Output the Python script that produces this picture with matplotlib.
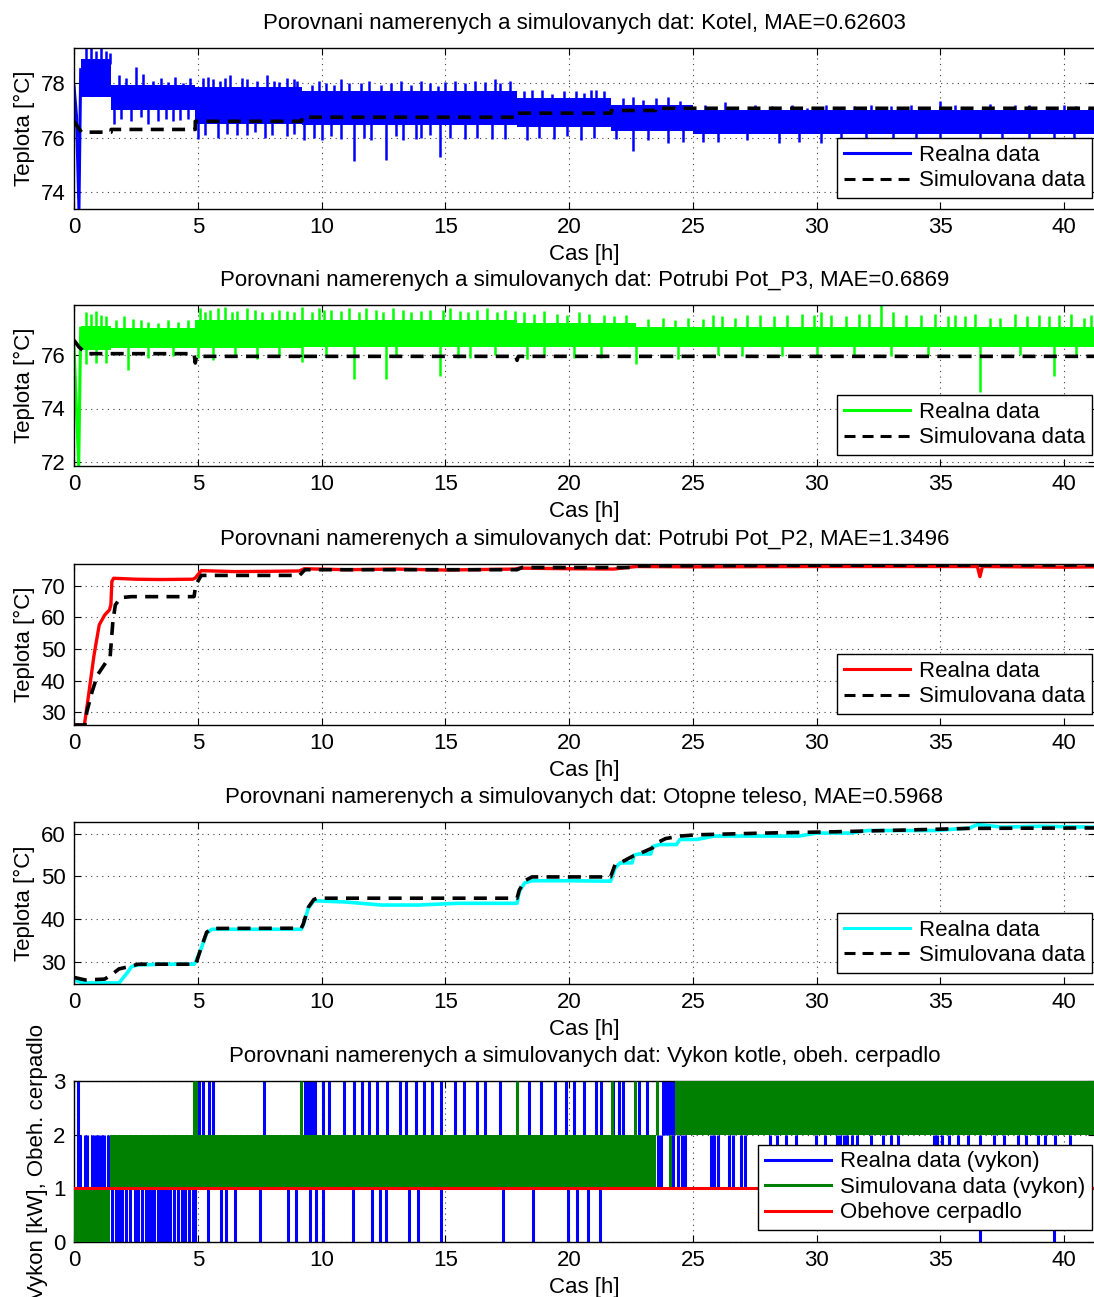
import matplotlib
matplotlib.use('Agg')
import matplotlib.pyplot as plt
from matplotlib.lines import Line2D
import numpy as np

plt.rcParams['font.family'] = ['Liberation Sans', 'DejaVu Sans']
plt.rcParams['font.size'] = 16
FS = 16

T_END = 41.25
xticks = [0, 5, 10, 15, 20, 25, 30, 35, 40]

# ---------- Panel 1: Kotel ----------
k_title = "Porovnani namerenych a simulovanych dat: Kotel, MAE=0.62603"
k_start_t = [0, 0.1, 0.2, 0.27]
k_start_v = [77.9, 76.8, 73.37, 78.5]
k_seg_t = [0.27, 1.5, 4.9, 9.2, 17.9, 21.7, 25.0, 41.25]
k_lo = [77.5, 77.0, 76.5, 76.45, 76.4, 76.25, 76.15]
k_hi = [78.9, 77.95, 77.85, 77.7, 77.45, 77.2, 77.0]
k_up_t = [0.5, 0.7, 0.9, 1.1, 1.3, 1.45, 1.8, 2.1, 2.5, 2.8, 3.2, 3.5, 3.8, 4.1, 4.4, 4.7,
          5.2, 5.4, 5.6, 5.9, 6.1, 6.3, 6.8, 7.0, 7.4, 7.8, 8.1, 8.3, 8.6, 8.9, 9.0,
          9.6, 9.9, 10.2, 10.5, 10.8, 11.1, 11.6, 11.9, 12.4, 12.8, 13.2, 13.6, 14.0, 14.4, 14.7,
          15.0, 15.4, 15.8, 16.2, 16.6, 17.0, 17.2, 17.6,
          18.2, 18.5, 18.9, 19.3, 19.8, 20.3, 20.6, 20.9, 21.1, 21.4,
          22.2, 22.6, 23.0, 23.5, 24.0, 24.5,
          25.5, 26.3, 26.8, 27.5, 28.2, 29.0, 29.6, 30.4, 31.0, 31.5, 32.2, 33.0, 33.8, 34.5,
          35.0, 35.6, 36.2, 37.0, 37.6, 38.0, 38.6, 39.3, 40.0, 40.5, 41.0]
k_up_v = [79.3, 79.3, 79.2, 79.3, 79.2, 79.1, 78.3, 78.2, 78.6, 78.35, 78.1, 78.2, 78.05, 78.25, 78.0, 78.2,
          78.2, 78.25, 78.15, 78.1, 78.2, 78.3, 78.2, 78.15, 78.1, 78.3, 78.1, 78.05, 78.2, 78.15, 78.1,
          77.95, 78.1, 78.0, 77.95, 78.15, 78.0, 78.0, 78.1, 77.95, 78.0, 78.1, 77.95, 78.1, 78.0, 77.9,
          78.05, 78.1, 78.0, 78.1, 78.05, 78.15, 78.0, 78.1,
          77.7, 77.75, 77.75, 77.6, 77.7, 77.7, 77.65, 77.75, 77.75, 77.7,
          77.45, 77.5, 77.4, 77.45, 77.5, 77.35,
          77.2, 77.3, 77.1, 77.2, 77.15, 77.2, 77.1, 77.2, 77.1, 77.15, 77.2, 77.15, 77.2, 77.1,
          77.35, 77.2, 77.1, 77.25, 77.1, 77.2, 77.2, 77.1, 77.2, 77.15, 77.1]
k_dn_t = [1.6, 1.9, 2.3, 2.7, 3.0, 3.4, 3.7, 4.0, 4.3, 4.6,
          5.0, 5.3, 5.8, 6.2, 6.6, 7.0, 7.3, 7.7, 8.0, 8.6, 8.9,
          9.3, 9.7, 10.0, 10.4, 10.8, 11.3, 11.7, 12.0, 12.6, 13.0, 13.3, 13.8, 14.0, 14.4, 14.8,
          15.2, 15.8, 16.3, 16.9, 17.4,
          18.3, 18.8, 19.4, 19.9, 20.5, 21.0, 21.9, 22.6, 23.2, 24.0, 24.6,
          25.4, 26.0, 27.2, 28.5, 29.3, 30.2, 31.0, 32.0, 33.1, 34.0, 35.0, 36.6, 37.5, 38.6, 39.6, 40.4]
k_dn_v = [76.5, 76.7, 76.6, 76.75, 76.5, 76.6, 76.7, 76.6, 76.65, 76.7,
          75.95, 76.1, 76.0, 76.15, 76.1, 76.1, 76.2, 76.0, 76.1, 76.05, 76.15,
          75.9, 76.0, 75.9, 76.05, 75.95, 75.12, 76.0, 75.9, 75.18, 76.05, 75.9, 75.95, 76.0, 76.1, 75.3,
          76.0, 75.95, 76.0, 75.95, 75.95,
          75.9, 76.0, 75.95, 76.05, 75.9, 76.0, 75.95, 75.5, 75.9, 75.8, 75.85,
          75.85, 75.85, 75.9, 75.8, 75.85, 75.8, 75.9, 75.75, 75.8, 75.85, 75.9, 75.7, 75.85, 75.9, 75.8, 75.85]
k_sim_t = [0, 0.3, 1.5, 1.5, 4.9, 4.9, 9.2, 9.2, 17.9, 17.9, 21.7, 21.7, 23.5, 23.5, 41.25]
k_sim_v = [76.6, 76.2, 76.2, 76.3, 76.3, 76.6, 76.6, 76.75, 76.75, 76.9, 76.9, 77.0, 77.0, 77.08, 77.08]

# ---------- Panel 2: Potrubi Pot_P3 ----------
p3_title = "Porovnani namerenych a simulovanych dat: Potrubi Pot_P3, MAE=0.6869"
p3_start_t = [0, 0.19, 0.27]
p3_start_v = [76.3, 71.85, 77.0]
p3_seg_t = [0.27, 1.5, 4.9, 9.2, 17.9, 22.7, 41.25]
p3_lo = [76.2, 76.25, 76.25, 76.3, 76.3, 76.3]
p3_hi = [77.1, 77.0, 77.3, 77.3, 77.2, 77.05]
p3_up_t = [0.5, 0.7, 0.9, 1.1, 1.3, 1.7, 2.0, 2.4, 2.7, 3.0, 3.4, 3.8, 4.2, 4.6,
           5.1, 5.3, 5.5, 5.8, 6.1, 6.4, 6.6, 7.0, 7.3, 7.6, 8.0, 8.3, 8.6, 8.9,
           9.2, 9.6, 9.9, 10.1, 10.4, 10.8, 11.1, 11.5, 11.8, 12.2, 12.5, 12.9, 13.3, 13.6, 14.0,
           14.4, 14.9, 15.2, 15.6, 15.9, 16.3, 16.7, 17.1, 17.4, 17.8,
           18.2, 18.6, 19.0, 19.5, 19.9, 20.4, 20.8, 21.4, 21.8, 22.3,
           23.2, 23.8, 24.3, 24.8, 25.4, 25.8, 26.2, 26.7, 27.2, 27.7, 28.3, 28.8, 29.4, 29.9, 30.2,
           30.6, 31.2, 31.7, 32.1, 32.6, 33.1, 33.6, 34.2, 34.8, 35.3, 35.6, 36.0, 36.4, 37.0,
           37.4, 38.0, 38.5, 39.0, 39.4, 39.8, 40.3, 40.8, 41.1]
p3_up_v = [77.6, 77.55, 77.65, 77.5, 77.45, 77.3, 77.45, 77.35, 77.3, 77.25, 77.2, 77.3, 77.25, 77.3,
           77.75, 77.6, 77.7, 77.75, 77.8, 77.6, 77.65, 77.75, 77.7, 77.6, 77.6, 77.7, 77.65, 77.6,
           77.8, 77.6, 77.75, 77.7, 77.7, 77.65, 77.75, 77.6, 77.75, 77.7, 77.6, 77.75, 77.7, 77.6, 77.65,
           77.7, 77.7, 77.75, 77.65, 77.6, 77.7, 77.75, 77.6, 77.7, 77.65,
           77.6, 77.55, 77.65, 77.55, 77.5, 77.6, 77.55, 77.5, 77.45, 77.5,
           77.35, 77.4, 77.3, 77.4, 77.35, 77.5, 77.45, 77.4, 77.5, 77.5, 77.45, 77.5, 77.55, 77.5, 77.6,
           77.5, 77.45, 77.55, 77.55, 77.87, 77.6, 77.5, 77.5, 77.55, 77.45, 77.5, 77.45, 77.55, 77.4,
           77.4, 77.55, 77.45, 77.5, 77.45, 77.5, 77.55, 77.4, 77.5]
p3_dn_t = [0.5, 0.9, 1.3, 2.2, 3.0, 4.0, 5.0, 5.6, 6.5, 7.4, 8.3, 9.2, 10.2, 11.3, 12.6, 13.0, 14.8,
           15.5, 16.0, 17.0, 18.3, 19.0, 20.2, 21.3, 22.7, 24.4, 26.0, 27.0, 28.6, 30.0, 31.5,
           33.0, 34.5, 36.6, 38.2, 39.6, 40.5]
p3_dn_v = [75.65, 75.7, 75.7, 75.45, 75.9, 75.95, 75.9, 75.8, 76.0, 75.85, 75.95, 75.75, 75.95, 75.1, 75.1, 76.0, 75.2,
           75.9, 75.9, 76.0, 75.85, 76.0, 75.9, 75.9, 75.65, 75.85, 76.0, 75.95, 75.95, 75.95, 76.0,
           75.95, 75.95, 74.6, 76.0, 75.2, 75.95]
p3_sim_t = [0, 0.2, 0.5, 4.85, 4.9, 4.95, 9.15, 9.2, 9.25, 17.85, 17.9, 17.95, 41.25]
p3_sim_v = [76.55, 76.3, 76.05, 76.05, 75.7, 75.95, 75.95, 75.8, 75.95, 75.95, 75.8, 75.95, 75.95]

# ---------- Panel 3: Potrubi Pot_P2 ----------
p2_title = "Porovnani namerenych a simulovanych dat: Potrubi Pot_P2, MAE=1.3496"
p2_real_t = [0, 0.42, 0.59, 0.81, 1.02, 1.24, 1.43, 1.49, 1.53, 1.60, 2.5, 3.5, 4.8, 4.9, 5.14, 6.5, 8.0,
             9.1, 9.3, 11, 13, 15, 17.8, 18.0, 20, 21.8, 22.7, 25, 30, 35, 36.5, 36.6, 36.7, 40, 41.25]
p2_real_v = [26.0, 26.0, 35.5, 48.1, 57.6, 60.7, 62.3, 63.9, 71.3, 72.3, 72.0, 71.9, 72.0, 72.4, 74.7, 74.4, 74.5,
             74.6, 75.3, 75.0, 75.2, 74.9, 75.2, 75.5, 75.3, 75.2, 76.0, 75.9, 76.0, 76.0, 76.0, 72.8, 76.0, 75.8, 75.9]
p2_sim_t = [0, 0.44, 0.52, 0.73, 0.95, 1.31, 1.46, 1.57, 1.67, 1.89, 2.32, 4.85, 4.92, 5.14, 9.11, 9.33,
            17.9, 18.1, 22.6, 22.8, 30, 41.25]
p2_sim_v = [26.0, 26.0, 30.2, 36.5, 41.8, 46.0, 47.6, 58.6, 63.9, 66.2, 66.5, 66.5, 70.2, 73.2, 73.2, 75.0,
            75.0, 75.7, 75.7, 76.2, 76.4, 76.5]

# ---------- Panel 4: Otopne teleso ----------
ot_title = "Porovnani namerenych a simulovanych dat: Otopne teleso, MAE=0.5968"
ot_real_t = [0, 0.37, 1.82, 2.18, 2.32, 2.54, 3.5, 4.85, 4.92, 5.14, 5.36, 5.57, 7, 9.18, 9.26, 9.47, 9.69,
             11, 12.4, 13.9, 15.5, 17.9, 17.99, 18.21, 18.5, 20, 21.68, 21.86, 22.07, 22.55, 22.62, 22.82,
             23.31, 23.37, 23.65, 24.34, 24.48, 25.17, 25.86, 29.3, 30.0, 31.37, 32.06, 34.81, 36.19, 36.5,
             37.5, 39, 41.25]
ot_real_v = [25.7, 25.0, 25.0, 27.6, 28.8, 29.2, 29.4, 29.4, 30.0, 33.1, 36.7, 37.6, 37.6, 37.6, 38.6, 42.6, 44.3,
             44.0, 43.3, 43.3, 43.7, 43.7, 46.5, 48.5, 49.0, 49.0, 48.9, 52.0, 53.2, 53.2, 55.0, 55.3,
             55.3, 57.0, 57.5, 57.5, 58.7, 58.7, 59.5, 59.5, 60.2, 60.2, 60.8, 60.8, 61.4, 62.2,
             61.6, 61.8, 61.6]
ot_sim_t = [0, 0.45, 1.24, 1.53, 1.82, 2.2, 2.6, 4.92, 5.14, 5.36, 5.57, 9.18, 9.26, 9.47, 9.69, 9.83,
            17.9, 17.99, 18.21, 18.5, 21.68, 21.86, 22.07, 22.55, 22.82, 23.37, 23.55, 23.9, 24.48, 25.17,
            27.9, 30.7, 33.5, 36.2, 41.25]
ot_sim_v = [26.3, 25.7, 25.9, 27.0, 28.3, 28.8, 29.4, 29.4, 33.3, 36.9, 37.8, 37.85, 38.8, 42.8, 44.6, 44.9,
            44.9, 46.8, 49.0, 49.9, 49.9, 52.8, 53.2, 54.7, 55.3, 56.7, 57.9, 58.9, 59.5, 59.8,
            60.2, 60.5, 60.9, 61.3, 61.4]

# ---------- Panel 5: Vykon kotle, obeh. cerpadlo ----------
pw_title = "Porovnani namerenych a simulovanych dat: Vykon kotle, obeh. cerpadlo"
pw_real_01 = [1.53, 1.68, 1.80, 1.95, 2.10, 2.25, 2.45, 2.60, 2.75, 2.90, 3.00, 3.12, 3.25, 3.38, 3.50,
              3.62, 3.75, 3.88, 4.05, 4.20, 4.35, 4.50, 4.65, 4.80, 4.88, 5.43, 5.93, 6.15, 6.51, 7.52,
              8.64, 8.97, 9.55, 9.76, 10.05, 11.28, 12.04, 12.36, 12.61, 13.55, 13.88, 14.82, 17.34,
              18.53, 19.94, 20.31, 20.78, 21.25, 36.6, 39.6]
pw_real_12 = [0.15, 0.25, 0.43, 0.52, 0.72, 0.80, 0.93, 1.00, 1.15, 1.22, 1.37,
              23.58, 23.72, 24.2, 24.41, 24.55, 24.68, 25.72, 25.86, 26.0, 26.48, 26.61, 26.96, 27.1,
              28.13, 28.4, 28.75, 29.16, 29.99, 30.33, 30.82, 30.95, 31.09, 31.23, 31.43, 31.64, 32.19,
              32.67, 33.02, 33.29, 34.74, 34.87, 35.08, 35.36, 35.7, 36.11, 36.6, 37.15, 37.56, 38.12,
              38.46, 38.94, 39.22, 39.63, 40.25]
pw_real_23 = [0.15, 5.07, 5.21, 5.47, 5.62, 7.67, 9.33, 9.43, 9.55, 9.64, 9.72, 10.05, 10.30, 10.92, 11.31,
              11.64, 11.92, 12.26, 12.65, 13.16, 13.42, 13.81, 14.14, 14.46, 14.82, 15.40, 15.76, 16.30,
              16.62, 17.23, 18.39, 18.86, 19.44, 19.86, 20.21, 20.62, 21.10, 21.31, 21.79, 22.0, 22.2,
              22.82, 23.17, 23.8, 23.9, 24.0, 24.1, 24.2]
pw_sim_t0 = [0, 1.46, 24.3]
pw_sim_t1 = [1.46, 23.5, 41.25]
pw_sim_lo = [0, 1, 2]
pw_sim_hi = [1, 2, 3]
pw_sim_23 = [4.86, 4.92, 9.17, 17.9, 21.72, 22.65, 23.55]
pw_sim_12 = [24.06]
pump_t = [0, 41.25]
pump_v = [1, 1]

BLUE = '#0000FF'
LIME = '#00FF00'
RED = '#FF0000'
CYAN = '#00FFFF'
GREEN = '#008000'
DASH = (0, (3.6, 2.3))

W, H = 1094, 1297
fig = plt.figure(figsize=(W / 100, H / 100), dpi=100)

def make_ax(top_px, bot_px):
    left = 74 / W
    ax = fig.add_axes([left, 1 - bot_px / H, 1021 / W, (bot_px - top_px) / H])
    ax.set_xlim(0, T_END)
    ax.set_xticks(xticks)
    ax.tick_params(direction='in', top=True, right=True, length=5, width=0.8, labelsize=FS, pad=6)
    ax.grid(True, linestyle=(0, (1, 4)), color='0.25', linewidth=0.8)
    ax.set_axisbelow(True)
    for s in ax.spines.values():
        s.set_linewidth(1.0)
    ax.set_xlabel('Cas [h]', labelpad=4, fontsize=FS)
    return ax

def step_lookup(seg_t, vals, t):
    i = int(np.searchsorted(seg_t, t, side='right')) - 1
    i = min(max(i, 0), len(vals) - 1)
    return vals[i]

def draw_noisy(ax, seg_t, lo, hi, st, sv, up_t, up_v, dn_t, dn_v, color):
    ax.fill_between(seg_t, lo + [lo[-1]], hi + [hi[-1]], step='post', color=color, lw=0, zorder=2)
    ax.plot(st, sv, color=color, lw=2.2, zorder=2)
    for t, v in zip(up_t, up_v):
        ax.vlines(t, step_lookup(seg_t, hi, t) - 0.2, v, color=color, lw=1.8, zorder=2)
    for t, v in zip(dn_t, dn_v):
        ax.vlines(t, v, step_lookup(seg_t, lo, t) + 0.2, color=color, lw=1.8, zorder=2)

def add_legend(ax, handles, labels, bottom_px):
    leg = ax.legend(handles, labels, loc='lower right',
                    bbox_to_anchor=(1018 / 1021, bottom_px / 161), borderaxespad=0, fancybox=False,
                    framealpha=1, edgecolor='k', handlelength=3.0, handletextpad=0.4,
                    labelspacing=0.2, borderpad=0.3, fontsize=FS)
    leg.get_frame().set_linewidth(1.0)
    leg.set_zorder(10)

def temp_legend(ax, color):
    h = [Line2D([], [], color=color, lw=2.2), Line2D([], [], color='k', lw=2.2, linestyle=DASH)]
    add_legend(ax, h, ['Realna data', 'Simulovana data'], 11)

TPAD = 14

# Panel 1
ax1 = make_ax(48, 209)
draw_noisy(ax1, k_seg_t, k_lo, k_hi, k_start_t, k_start_v, k_up_t, k_up_v, k_dn_t, k_dn_v, BLUE)
ax1.plot(k_sim_t, k_sim_v, color='k', lw=2.6, linestyle=DASH, zorder=3)
ax1.set_ylim(73.37, 79.3)
ax1.set_yticks([74, 76, 78])
ax1.set_ylabel('Teplota [°C]')
ax1.set_title(k_title, fontsize=FS, pad=TPAD)
temp_legend(ax1, BLUE)

# Panel 2
ax2 = make_ax(305, 466)
draw_noisy(ax2, p3_seg_t, p3_lo, p3_hi, p3_start_t, p3_start_v, p3_up_t, p3_up_v, p3_dn_t, p3_dn_v, LIME)
ax2.plot(p3_sim_t, p3_sim_v, color='k', lw=2.6, linestyle=DASH, zorder=3)
ax2.set_ylim(71.85, 77.87)
ax2.set_yticks([72, 74, 76])
ax2.set_ylabel('Teplota [°C]')
ax2.set_title(p3_title, fontsize=FS, pad=TPAD)
temp_legend(ax2, LIME)

# Panel 3
ax3 = make_ax(564, 725)
ax3.plot(p2_real_t, p2_real_v, color=RED, lw=2.4, zorder=2)
ax3.plot(p2_sim_t, p2_sim_v, color='k', lw=2.6, linestyle=DASH, zorder=3)
ax3.set_ylim(26.0, 76.8)
ax3.set_yticks([30, 40, 50, 60, 70])
ax3.set_ylabel('Teplota [°C]')
ax3.set_title(p2_title, fontsize=FS, pad=TPAD)
temp_legend(ax3, RED)

# Panel 4
ax4 = make_ax(822, 984)
ax4.plot(ot_real_t, ot_real_v, color=CYAN, lw=2.6, zorder=2)
ax4.plot(ot_sim_t, ot_sim_v, color='k', lw=2.6, linestyle=DASH, zorder=3)
ax4.set_ylim(24.75, 62.8)
ax4.set_yticks([30, 40, 50, 60])
ax4.set_ylabel('Teplota [°C]')
ax4.set_title(ot_title, fontsize=FS, pad=TPAD)
temp_legend(ax4, CYAN)

# Panel 5
ax5 = make_ax(1081, 1242)
ax5.vlines(pw_real_01, 0, 1, color=BLUE, lw=2.2, zorder=2)
ax5.vlines(pw_real_12, 1, 2, color=BLUE, lw=2.2, zorder=2)
ax5.vlines(pw_real_23, 2, 3, color=BLUE, lw=2.2, zorder=2)
for t0, t1, lo, hi in zip(pw_sim_t0, pw_sim_t1, pw_sim_lo, pw_sim_hi):
    ax5.fill_between([t0, t1], [lo, lo], [hi, hi], color=GREEN, lw=0, zorder=3)
ax5.vlines(pw_sim_23, 2, 3, color=GREEN, lw=2.2, zorder=3)
ax5.vlines(pw_sim_12, 1, 2, color=GREEN, lw=2.2, zorder=3)
ax5.plot(pump_t, pump_v, color=RED, lw=2.2, zorder=4)
ax5.set_ylim(0, 3)
ax5.set_yticks([0, 1, 2, 3])
ax5.set_ylabel('Vykon [kW], Obeh. cerpadlo')
ax5.set_title(pw_title, fontsize=FS, pad=TPAD)
h5 = [Line2D([], [], color=BLUE, lw=2.2), Line2D([], [], color=GREEN, lw=2.2),
      Line2D([], [], color=RED, lw=2.2)]
add_legend(ax5, h5, ['Realna data (vykon)', 'Simulovana data (vykon)', 'Obehove cerpadlo'], 12)

fig.savefig('out.png', dpi=100)
